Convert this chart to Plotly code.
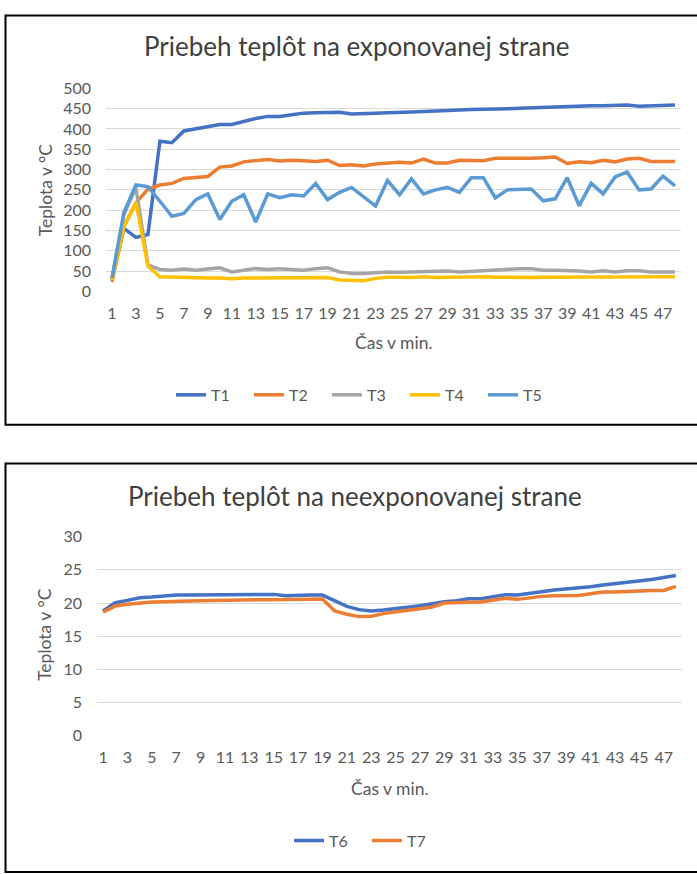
import plotly.graph_objects as go

# Minutes of measurement
minutes = list(range(1, 49))

# Exposed side temperatures (°C)
T1 = [30, 155, 133, 140, 370, 366, 395, 400, 405, 411, 411, 419, 426, 431, 431, 435,
      439, 440, 440, 441, 437, 437, 439, 440, 442, 442, 443, 445, 446, 447, 448, 448,
      449, 450, 451, 452, 454, 456, 457, 457, 457, 457, 459, 459, 456, 457, 457, 459]
T2 = [23, 160, 218, 252, 262, 266, 278, 281, 283, 306, 309, 319, 323, 325, 321, 323,
      322, 320, 323, 310, 312, 309, 314, 316, 318, 316, 326, 316, 316, 323, 322, 322,
      328, 328, 326, 328, 329, 331, 315, 319, 317, 323, 319, 326, 328, 320, 320, 320]
T3 = [30, 190, 255, 65, 54, 52, 55, 52, 55, 58, 48, 52, 56, 54, 56, 54,
      52, 56, 58, 48, 44, 44, 47, 48, 47, 48, 48, 48, 50, 48, 50, 50,
      52, 55, 56, 56, 52, 52, 52, 50, 48, 51, 48, 51, 51, 48, 48, 48]
T4 = [28, 160, 220, 62, 36, 35, 33, 33, 33, 33, 31, 33, 33, 33, 33, 33,
      33, 33, 34, 28, 28, 26, 32, 35, 35, 34, 36, 34, 35, 36, 36, 36,
      35, 34, 34, 34, 35, 35, 36, 36, 35, 36, 34, 35, 35, 35, 35, 36]
T5 = [33, 195, 262, 258, 222, 185, 192, 226, 240, 177, 222, 238, 171, 240, 231, 238,
      235, 266, 226, 244, 256, 234, 210, 273, 238, 277, 240, 250, 256, 244, 280, 280,
      230, 250, 250, 252, 223, 228, 280, 211, 266, 240, 282, 294, 250, 252, 284, 260]

# Non-exposed side temperatures (°C)
T6 = [18.8, 20.05, 20.4, 20.8, 20.9, 21.1, 21.2, 21.2, 21.2, 21.2, 21.3, 21.3, 21.3, 21.3,
      21.3, 21.1, 21.2, 21.2, 21.2, 20.3, 19.5, 19.0, 18.8, 18.95, 19.15, 19.4, 19.6, 19.9,
      20.2, 20.35, 20.65, 20.65, 20.95, 21.25, 21.2, 21.5, 21.7, 21.95, 22.1, 22.2, 22.45,
      22.7, 22.9, 23.1, 23.35, 23.55, 23.85, 24.15]
T7 = [18.6, 19.55, 19.8, 20.0, 20.15, 20.2, 20.2, 20.3, 20.35, 20.4, 20.4, 20.45, 20.5, 20.5,
      20.5, 20.55, 20.55, 20.6, 20.6, 18.8, 18.3, 17.95, 18.0, 18.4, 18.7, 18.9, 19.15, 19.4,
      20.0, 20.1, 20.1, 20.15, 20.4, 20.7, 20.55, 20.8, 21.0, 21.1, 21.15, 21.15, 21.4,
      21.65, 21.65, 21.75, 21.8, 21.9, 21.9, 22.5]

top_series = [("T1", T1, "#4472C4"), ("T2", T2, "#ED7D31"), ("T3", T3, "#A5A5A5"),
              ("T4", T4, "#FFC000"), ("T5", T5, "#5B9BD5")]
bottom_series = [("T6", T6, "#4472C4"), ("T7", T7, "#ED7D31")]

W, H = 697, 874
FONT = "Lato"
TXT = "#595959"
GRID = "#D9D9D9"


def px(x):
    return x / W


def py(y):
    return 1 - y / H


fig = go.Figure()
for name, vals, col in top_series:
    fig.add_trace(go.Scatter(x=minutes, y=vals, name=name, mode="lines",
                             line=dict(color=col, width=3.5),
                             xaxis="x", yaxis="y", legend="legend"))
for name, vals, col in bottom_series:
    fig.add_trace(go.Scatter(x=minutes, y=vals, name=name, mode="lines",
                             line=dict(color=col, width=3.5),
                             xaxis="x2", yaxis="y2", legend="legend2"))

xcommon = dict(tickmode="linear", tick0=1, dtick=2, range=[0.5, 48.5],
               showgrid=False, zeroline=False, showline=False, ticks="",
               tickfont=dict(family=FONT, size=16, color=TXT), ticklabelstandoff=10,
               fixedrange=True)
ycommon = dict(showgrid=True, gridcolor=GRID, gridwidth=1, zeroline=False,
               showline=False, ticks="", tickfont=dict(family=FONT, size=16, color=TXT),
               ticklabelstandoff=14, fixedrange=True)

legend_font = dict(family=FONT, size=16, color=TXT)

fig.update_layout(
    width=W, height=H,
    margin=dict(l=0, r=0, t=0, b=0),
    paper_bgcolor="white", plot_bgcolor="white",
    xaxis=dict(domain=[px(106), px(681)], anchor="y", **xcommon),
    yaxis=dict(domain=[py(287.7), py(79.6)], anchor="x", range=[-1, 501],
               tickmode="linear", tick0=0, dtick=50, **ycommon),
    xaxis2=dict(domain=[px(97), px(682)], anchor="y2", **xcommon),
    yaxis2=dict(domain=[py(741.3), py(537.4)], anchor="x2", range=[-0.05, 30.05],
                tickmode="linear", tick0=0, dtick=5, **ycommon),
    legend=dict(orientation="h", x=px(171), xanchor="left", y=py(393), yanchor="middle",
                entrywidth=33, font=legend_font, bgcolor="rgba(0,0,0,0)"),
    legend2=dict(orientation="h", x=px(289), xanchor="left", y=py(848), yanchor="middle",
                 entrywidth=33, font=legend_font, bgcolor="rgba(0,0,0,0)"),
    showlegend=True,
)

annotations = [
    dict(text="Priebeh teplôt na exponovanej strane", x=px(356), y=py(37),
         font=dict(family=FONT, size=26, color="#404040")),
    dict(text="Priebeh teplôt na neexponovanej strane", x=px(355), y=py(496),
         font=dict(family=FONT, size=26, color="#404040")),
    dict(text="Teplota v °C", x=px(45), y=py(184), textangle=-90,
         font=dict(family=FONT, size=17.5, color=TXT)),
    dict(text="Teplota v °C", x=px(45), y=py(638), textangle=-90,
         font=dict(family=FONT, size=17.5, color=TXT)),
    dict(text="Čas v min.", x=px(393.5), y=py(340),
         font=dict(family=FONT, size=17.5, color=TXT)),
    dict(text="Čas v min.", x=px(389.5), y=py(795),
         font=dict(family=FONT, size=17.5, color=TXT)),
]
for a in annotations:
    a.update(xref="paper", yref="paper", showarrow=False, xanchor="center", yanchor="middle")
fig.update_layout(annotations=annotations)

# Frames around both charts
fig.add_shape(type="rect", xref="paper", yref="paper",
              x0=px(5.5), x1=px(701), y0=py(423.5), y1=py(5.5),
              line=dict(color="black", width=2), fillcolor="rgba(0,0,0,0)")
fig.add_shape(type="rect", xref="paper", yref="paper",
              x0=px(5.5), x1=px(701), y0=py(880), y1=py(463),
              line=dict(color="black", width=2), fillcolor="rgba(0,0,0,0)")

fig.write_html("out.html")
